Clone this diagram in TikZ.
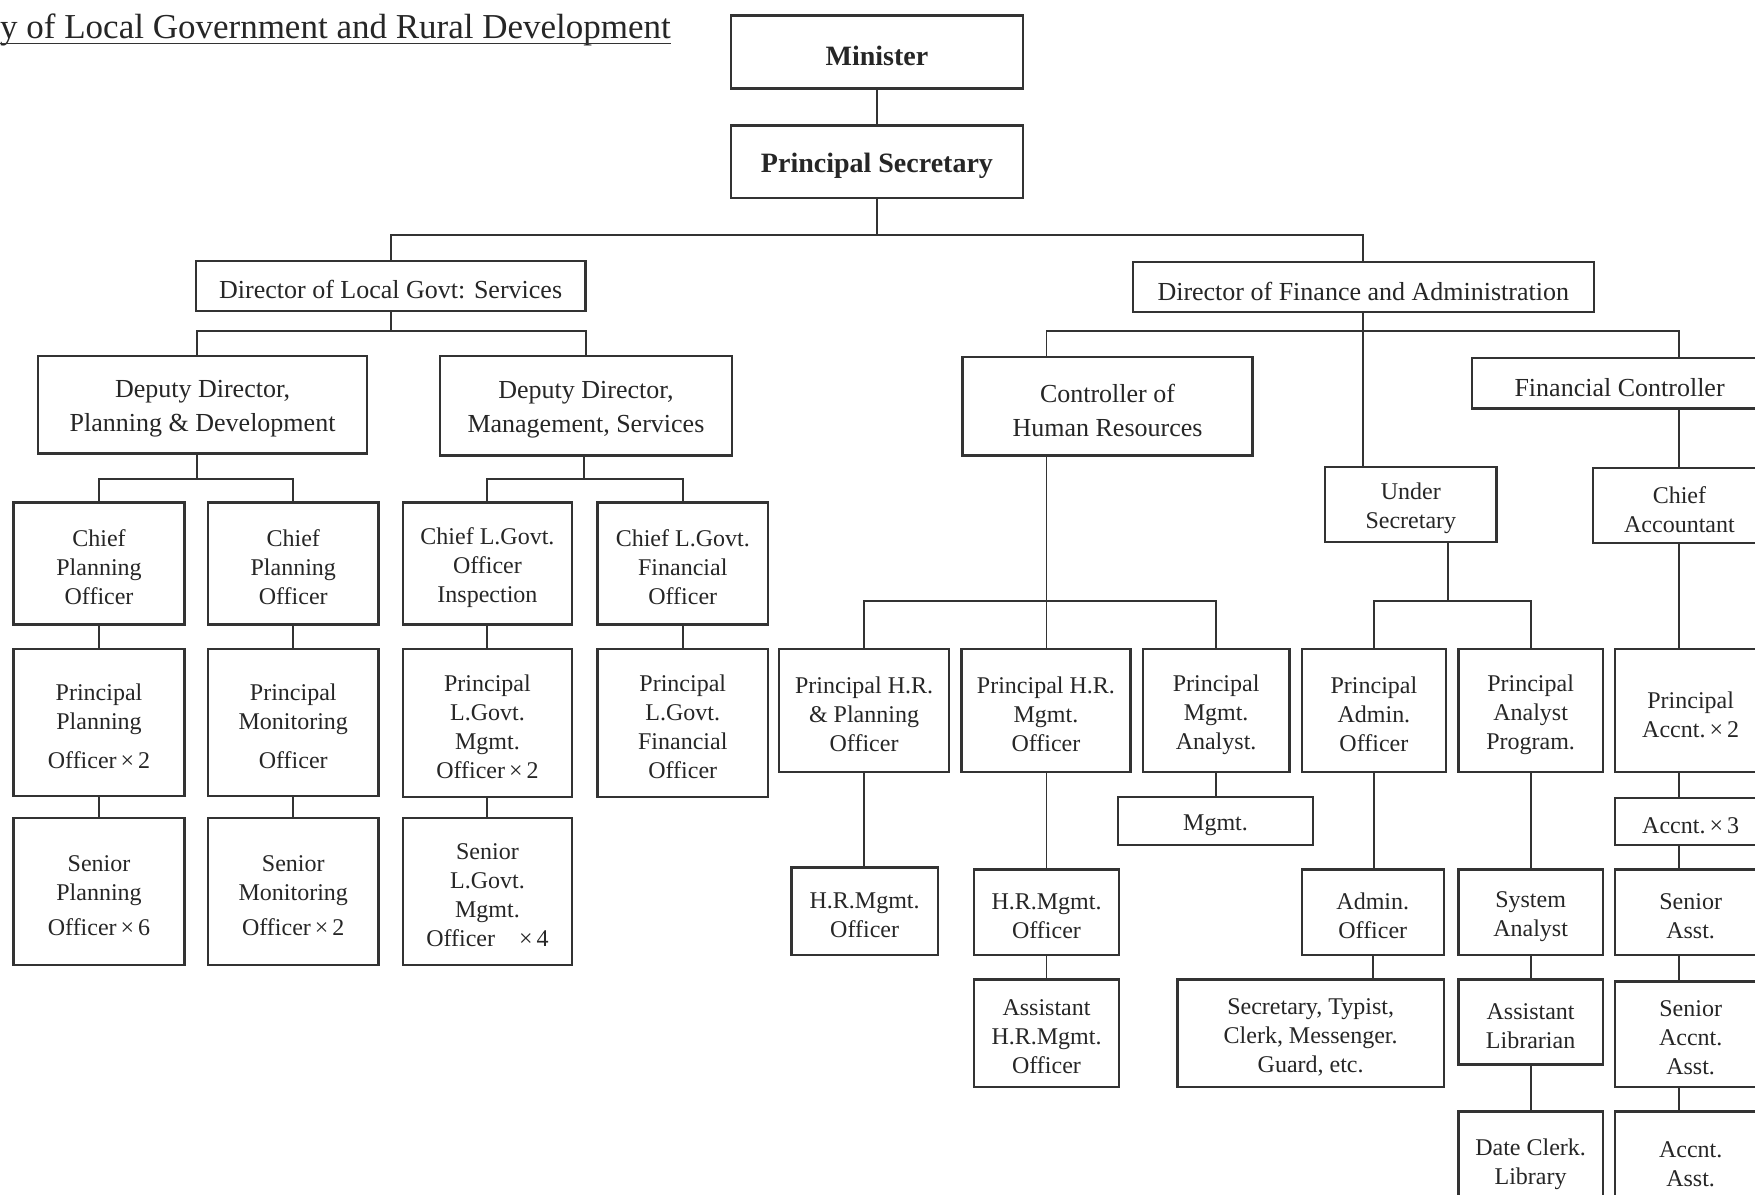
\documentclass[tikz,border=0pt]{standalone}
\usepackage{fontspec}
\setmainfont{Liberation Serif}
\tikzset{
  box/.style={draw=black!80, line width=2.4pt, inner sep=0pt},
  txt/.style={inner sep=0pt, align=center, font=\fontsize{24}{29}\selectfont, text=black!85},
  midtxt/.style={txt, font=\fontsize{26}{34}\selectfont},
  toptxt/.style={txt, font=\fontsize{28}{34}\selectfont\bfseries},
  link/.style={draw=black!80, line width=1.9pt},
}
\newcommand{\orgbox}[7][txt]{%
  \node[box, minimum width={(#5-#3)*1.1193pt}, minimum height={(#6-#4)*1.1193pt}] (#2) at ({(#3+#5)/2},{(#4+#6)/2}) {};
  \node[#1, yshift=-4pt] (#2-t) at (#2.center) {#7};}
\begin{document}
\begin{tikzpicture}[x=1.1193pt,y=-1.1193pt]
\useasboundingbox (0,0) rectangle (1568,1067);
\fill[white] (0,0) rectangle (1568,1067);
\clip (0,0) rectangle (1568,1067);

% title
\node[font=\fontsize{35}{40}\selectfont, anchor=base west, inner sep=0pt, text=black!85] (title) at (0,34) {y of Local Government and Rural Development};
\draw[line width=1.6pt, black!80] (title.base west |- 0,39) -- (title.base east |- 0,39);

% top
\orgbox[toptxt]{min}{653}{14}{914}{79}{Minister}
\orgbox[toptxt]{ps}{653}{112}{914}{177}{Principal Secretary}
\orgbox[midtxt]{dlgs}{175}{233}{523}{278}{Director of Local Govt: Services}
\orgbox[midtxt]{dfa}{1012}{234}{1424}{279}{Director of Finance and Administration}

% level 3
\orgbox[midtxt]{dpd}{34}{318}{328}{405}{Deputy Director,\\Planning \& Development}
\orgbox[midtxt]{dms}{393}{318}{654}{407}{Deputy Director,\\Management, Services}
\orgbox[midtxt]{chr}{860}{319}{1119}{407}{Controller of\\Human Resources}
\orgbox[midtxt]{fc}{1315}{320}{1579}{365}{Financial Controller}
\orgbox{us}{1184}{417}{1337}{484}{Under\\Secretary}
\orgbox{ca}{1423}{418}{1578}{485}{Chief\\Accountant}

% left chiefs
\orgbox{cpo1}{12}{449}{165}{558}{Chief\\Planning\\Officer}
\orgbox{cpo2}{186}{449}{338}{558}{Chief\\Planning\\Officer}
\orgbox{cli}{360}{449}{511}{558}{Chief L.Govt.\\Officer\\Inspection}
\orgbox{clf}{534}{449}{686}{558}{Chief L.Govt.\\Financial\\Officer}

\orgbox{ppo}{12}{580}{165}{711}{Principal\\Planning\\[10pt]Officer\,×\,2}
\orgbox{pmo}{186}{580}{338}{711}{Principal\\Monitoring\\[10pt]Officer}
\orgbox{plm}{360}{580}{511}{712}{Principal\\L.Govt.\\Mgmt.\\Officer\,×\,2}
\orgbox{plf}{534}{580}{686}{712}{Principal\\L.Govt.\\Financial\\Officer}

\orgbox{spo}{12}{731}{165}{862}{Senior\\Planning\\[6pt]Officer\,×\,6}
\orgbox{smo}{186}{731}{338}{862}{Senior\\Monitoring\\[6pt]Officer\,×\,2}
\orgbox{slm}{360}{731}{511}{862}{Senior\\L.Govt.\\Mgmt.\\Officer\quad×\,4}

% HR
\orgbox{phr}{696}{580}{848}{690}{Principal H.R.\\\& Planning\\Officer}
\orgbox{phm}{859}{580}{1010}{690}{Principal H.R.\\Mgmt.\\Officer}
\orgbox{pma}{1021}{580}{1152}{690}{Principal\\Mgmt.\\Analyst.}
\orgbox{mg}{999}{712}{1173}{755}{Mgmt.}
\orgbox{hrm1}{707}{775}{838}{853}{H.R.Mgmt.\\Officer}
\orgbox{hrm2}{870}{777}{1000}{853}{H.R.Mgmt.\\Officer}
\orgbox{ahr}{870}{875}{1000}{971}{Assistant\\H.R.Mgmt.\\Officer}

% admin
\orgbox{pao}{1163}{580}{1292}{690}{Principal\\Admin.\\Officer}
\orgbox{pap}{1303}{580}{1432}{690}{Principal\\Analyst\\Program.}
\orgbox{ao}{1163}{777}{1290}{853}{Admin.\\Officer}
\orgbox{stc}{1052}{875}{1290}{971}{Secretary, Typist,\\Clerk, Messenger.\\Guard, etc.}
\orgbox{sa}{1303}{777}{1432}{853}{System\\Analyst}
\orgbox{al}{1303}{875}{1432}{951}{Assistant\\Librarian}
\orgbox{dcl}{1303}{993}{1432}{1080}{Date Clerk.\\Library}

% accounts
\orgbox{pac}{1443}{580}{1578}{690}{Principal\\Accnt.\,×\,2}
\orgbox{ac3}{1443}{713}{1578}{755}{Accnt.\,×\,3}
\orgbox{sas}{1443}{777}{1578}{853}{Senior\\Asst.}
\orgbox{saa}{1443}{877}{1578}{971}{Senior\\Accnt.\\Asst.}
\orgbox{aas}{1443}{993}{1578}{1080}{Accnt.\\Asst.}

% bus junctions
\coordinate (jps) at (783.5,210);
\coordinate (jdl) at (349,296);
\coordinate (jfa) at (1218,296);
\coordinate (jdp) at (176,428);
\coordinate (jdm) at (522,428);
\coordinate (jhr) at (935,537);
\coordinate (jus) at (1294,537);

% connectors top
\draw[link] (min.south) -- (ps.north);
\draw[link] (ps.south) -- (jps);
\draw[link] (dlgs.north) |- (jps) -| (dfa.north);

\draw[link] (dlgs.south) -- (jdl);
\draw[link] (dpd.north -| jdp) |- (jdl) -| (dms.north);

\draw[link] (dfa.south) -- (us.north -| dfa.south);
\draw[link] (chr.north -| jhr) |- (jfa) -| (fc.north -| 1500,0);

% left branches
\draw[link] (dpd.south -| jdp) -- (jdp);
\draw[link] (cpo1.north) |- (jdp) -| (cpo2.north);
\draw[link] (dms.south -| jdm) -- (jdm);
\draw[link] (cli.north) |- (jdm) -| (clf.north);
\draw[link] (cpo1.south) -- (ppo.north);
\draw[link] (ppo.south) -- (spo.north);
\draw[link] (cpo2.south) -- (pmo.north);
\draw[link] (pmo.south) -- (smo.north);
\draw[link] (cli.south) -- (plm.north);
\draw[link] (plm.south) -- (slm.north);
\draw[link] (clf.south) -- (plf.north);

% HR branch
\draw[link] (chr.south -| jhr) -- (jhr);
\draw[link] (phr.north) |- (jhr) -| (pma.north);
\draw[link] (phm.north -| jhr) -- (jhr);
\draw[link] (phr.south) -- (hrm1.north -| phr.south);
\draw[link] (phm.south -| jhr) -- (hrm2.north -| jhr);
\draw[link] (hrm2.south -| jhr) -- (ahr.north -| jhr);
\draw[link] (pma.south) -- (mg.north -| pma.south);

% admin branch
\draw[link] (us.south -| jus) -- (jus);
\draw[link] (pao.north) |- (jus) -| (pap.north);
\draw[link] (pao.south) -- (ao.north -| pao.south);
\draw[link] (ao.south) -- (stc.north -| ao.south);
\draw[link] (pap.south) -- (sa.north -| pap.south);
\draw[link] (sa.south) -- (al.north -| sa.south);
\draw[link] (al.south) -- (dcl.north -| al.south);

% accounts branch
\draw[link] (fc.south -| 1500,0) -- (ca.north -| 1500,0);
\draw[link] (ca.south -| 1500,0) -- (pac.north -| 1500,0);
\draw[link] (pac.south -| 1500,0) -- (ac3.north -| 1500,0);
\draw[link] (ac3.south -| 1500,0) -- (sas.north -| 1500,0);
\draw[link] (sas.south -| 1500,0) -- (saa.north -| 1500,0);
\draw[link] (saa.south -| 1500,0) -- (aas.north -| 1500,0);
\end{tikzpicture}
\end{document}
